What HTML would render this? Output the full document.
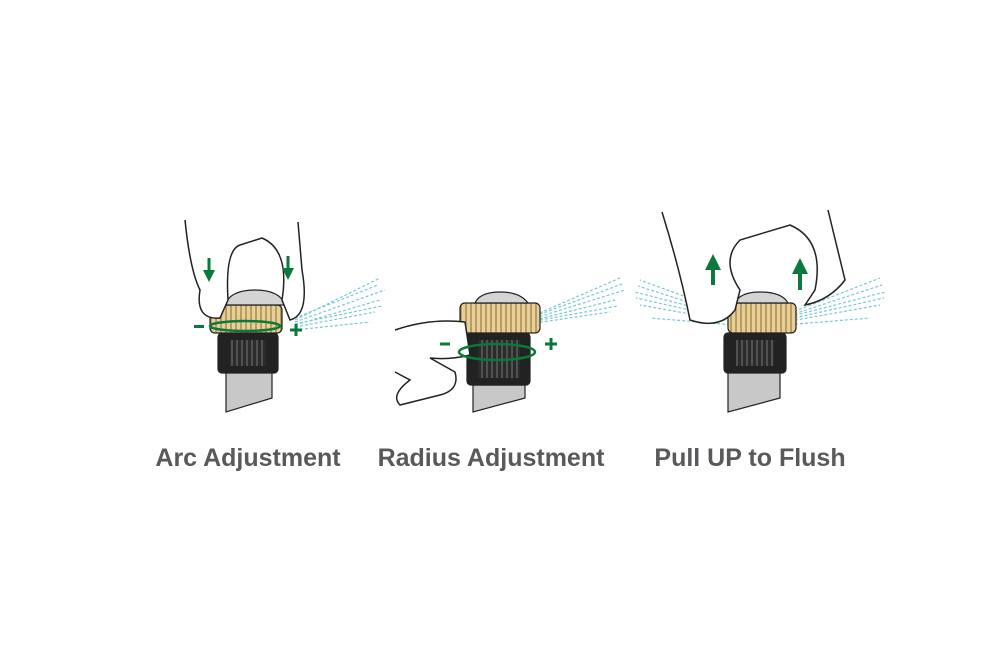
<!DOCTYPE html>
<html><head><style>
body{margin:0;background:#fff;width:1000px;height:660px;overflow:hidden}
svg{display:block}
text{font-family:"Liberation Sans",sans-serif;font-weight:bold;fill:#58595b;font-size:25px}
</style></head><body>
<svg width="1000" height="660" viewBox="0 0 1000 660">
<defs>
<pattern id="kn" width="5" height="30" patternUnits="userSpaceOnUse"><rect width="5" height="30" fill="#e6cf98"/><line x1="1" y1="0" x2="1" y2="30" stroke="#9b7a3a" stroke-width="1.2"/></pattern>
<pattern id="gr" width="5" height="30" patternUnits="userSpaceOnUse"><rect width="5" height="30" fill="#2b2b2b"/><line x1="2" y1="0" x2="2" y2="30" stroke="#777" stroke-width="1"/></pattern>
<marker id="ah" markerWidth="4" markerHeight="4" refX="2" refY="2" orient="auto"><path d="M0,0L4,2L0,4z" fill="#0a7a3c"/></marker>
</defs>
<g stroke="#7cc8d4" stroke-width="1.2" stroke-dasharray="3 2" fill="none">
<path d="M295,320L380,278M295,322L385,290M295,325L380,300M295,327L375,312M295,330L370,322M295,318L378,285M295,324L382,306"/>
<path d="M535,315L620,278M535,318L625,290M535,320L615,300M535,323L610,312M535,316L622,284M535,321L618,306"/>
<path d="M785,315L880,278M785,318L885,292M785,322L880,305M785,325L870,318M785,317L882,285M785,320L884,298"/>
<path d="M735,315L640,280M735,318L635,292M735,322L640,305M735,325L650,318M735,317L638,286M735,320L636,298"/>
</g>
<!-- sprinkler 1 -->
<g stroke="#222" stroke-width="1.2">
<path d="M226,372H272V398L226,412Z" fill="#c8c8c8"/>
<rect x="218" y="333" width="60" height="40" rx="4" fill="#222"/>
<rect x="230" y="340" width="36" height="26" fill="url(#gr)" stroke="none"/>
<rect x="210" y="305" width="72" height="28" rx="5" fill="url(#kn)"/>
<path d="M225,305Q230,290 255,290Q280,290 285,305Z" fill="#d4d4d4"/>
</g>
<path d="M185,220Q190,270 200,290Q195,320 220,318L228,300Q225,250 240,245L262,238Q290,250 282,300L290,320Q310,315 302,270L298,222" fill="#fff" stroke="#222" stroke-width="1.5"/>
<g fill="#0a7a3c">
<path d="M209,258V276" stroke="#0a7a3c" stroke-width="3" marker-end="url(#ah)"/>
<path d="M288,256V274" stroke="#0a7a3c" stroke-width="3" marker-end="url(#ah)"/>
<ellipse cx="245" cy="326" rx="35" ry="5" fill="none" stroke="#0a7a3c" stroke-width="2.5"/>
<rect x="194" y="325" width="10" height="3"/><path d="M290,330h12M296,324v12" stroke="#0a7a3c" stroke-width="3"/>
</g>
<!-- sprinkler 2 -->
<g stroke="#222" stroke-width="1.2">
<path d="M473,385H525V398L473,412Z" fill="#c8c8c8"/>
<rect x="467" y="333" width="63" height="52" rx="4" fill="#222"/>
<rect x="478" y="340" width="42" height="38" fill="url(#gr)" stroke="none"/>
<rect x="460" y="303" width="80" height="30" rx="5" fill="url(#kn)"/>
<path d="M475,303Q480,292 500,292Q520,292 528,303Z" fill="#d4d4d4"/>
</g>
<path d="M395,330Q430,318 465,322L470,355Q450,360 430,358L455,372Q460,390 440,395L400,405Q390,395 410,380L395,372" fill="#fff" stroke="#222" stroke-width="1.5"/>
<ellipse cx="497" cy="352" rx="38" ry="8" fill="none" stroke="#0a7a3c" stroke-width="2.5"/>
<path d="M440,344h10M545,344h12M551,338v12" stroke="#0a7a3c" stroke-width="3"/>
<!-- sprinkler 3 -->
<g stroke="#222" stroke-width="1.2">
<path d="M728,372H780V398L728,412Z" fill="#c8c8c8"/>
<rect x="724" y="333" width="62" height="40" rx="4" fill="#222"/>
<rect x="736" y="340" width="38" height="26" fill="url(#gr)" stroke="none"/>
<rect x="728" y="303" width="68" height="30" rx="5" fill="url(#kn)"/>
<path d="M735,303Q740,292 760,292Q782,292 788,303Z" fill="#d4d4d4"/>
</g>
<path d="M662,212Q680,270 690,320Q720,330 735,310L740,290Q720,260 740,240L790,225Q825,240 815,290L805,305Q830,300 845,280L828,210" fill="#fff" stroke="#222" stroke-width="1.5"/>
<path d="M713,285V262" stroke="#0a7a3c" stroke-width="4" marker-end="url(#ah)"/>
<path d="M800,290V266" stroke="#0a7a3c" stroke-width="4" marker-end="url(#ah)"/>
<text x="248" y="466" text-anchor="middle">Arc Adjustment</text>
<text x="491" y="466" text-anchor="middle">Radius Adjustment</text>
<text x="750" y="466" text-anchor="middle">Pull UP to Flush</text>
</svg>
</body></html>
